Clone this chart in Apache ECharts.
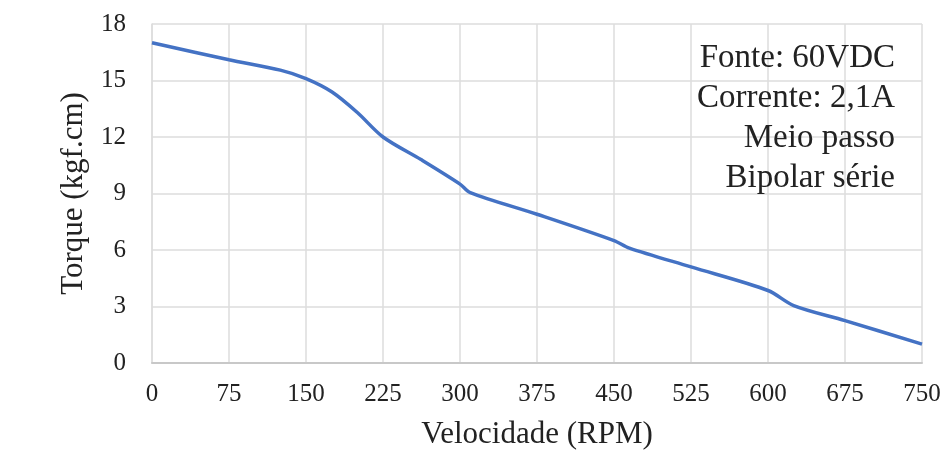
<!DOCTYPE html>
<html style="height: 100%">
<head>
<meta charset="utf-8">
</head>
<body style="height: 100%; margin: 0; background: #fff">
<div id="container" style="width: 944px; height: 453px"></div>
<script src="https://cdn.jsdelivr.net/npm/echarts@6/dist/echarts.min.js"></script>
<script type="text/javascript">
var speed = [0, 75, 125, 150, 175, 200, 225, 262, 300, 310, 375, 450, 465, 525, 600, 625, 675, 750];
var torque = [17.0, 16.1, 15.55, 15.1, 14.4, 13.3, 12.0, 10.8, 9.5, 9.05, 7.9, 6.5, 6.1, 5.1, 3.85, 3.05, 2.25, 1.0];
var notes = ['Fonte: 60VDC', 'Corrente: 2,1A', 'Meio passo', 'Bipolar série'];

var serif = '"Liberation Serif", "DejaVu Serif", serif';
var myChart = echarts.init(document.getElementById('container'));

var option = {
    backgroundColor: '#fff',
    animation: false,
    grid: { left: 152, right: 22, top: 24, bottom: 90, outerBoundsMode: 'none' },
    xAxis: {
        type: 'value',
        min: 0, max: 750, interval: 75,
        name: 'Velocidade (RPM)',
        nameLocation: 'middle',
        nameGap: 56,
        nameTextStyle: { fontFamily: serif, fontSize: 31, color: '#222' },
        axisLine: { show: true, lineStyle: { color: '#c8c8c8', width: 2 } },
        axisTick: { show: false },
        axisLabel: { fontFamily: serif, fontSize: 25, color: '#222', margin: 19 },
        splitLine: { lineStyle: { color: '#dcdcdc', width: 1.5 } }
    },
    yAxis: {
        type: 'value',
        min: 0, max: 18, interval: 3,
        name: 'Torque (kgf.cm)',
        nameLocation: 'middle',
        nameGap: 63,
        nameTextStyle: { fontFamily: serif, fontSize: 31, color: '#222' },
        axisLine: { show: true, lineStyle: { color: '#dcdcdc', width: 1.5 } },
        axisTick: { show: false },
        axisLabel: { fontFamily: serif, fontSize: 25, color: '#222', margin: 26 },
        splitLine: { lineStyle: { color: '#dcdcdc', width: 1.5 } }
    },
    graphic: [{
        type: 'text',
        right: 49,
        top: 38,
        z: 10,
        style: {
            text: notes.join('\n'),
            textAlign: 'right',
            fontFamily: serif,
            fontSize: 33,
            lineHeight: 40,
            fill: '#222'
        }
    }],
    series: [{
        type: 'line',
        data: speed.map(function (v, i) { return [v, torque[i]]; }),
        smooth: 0.3,
        showSymbol: false,
        lineStyle: { color: '#4472c4', width: 3.5 }
    }]
};
myChart.setOption(option);
</script>
</body>
</html>
